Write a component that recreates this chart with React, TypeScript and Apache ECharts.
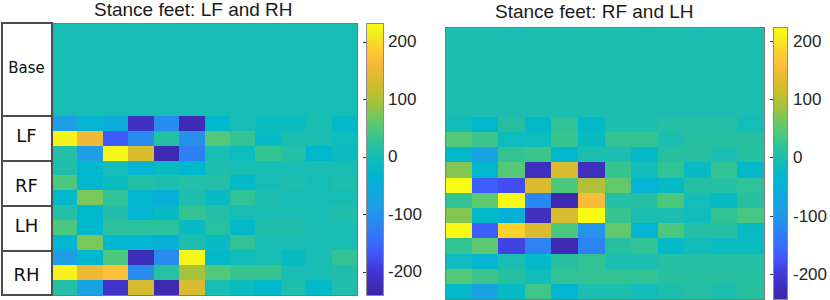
import React, { useEffect, useRef } from "react";
import * as echarts from "echarts";

// ---------- data ----------
const columns = ["1", "2", "3", "4", "5", "6", "7", "8", "9", "10", "11", "12"];
const groupLabels = ["LF", "RF", "LH", "RH"];
const baseLabel = "Base";
const tickValues = [-200, -100, 0, 100, 200];

const leftTitle = "Stance feet: LF and RH";
const rightTitle = "Stance feet: RF and LH";

const leftRange = [-240, 233];
const rightRange = [-243, 224];

const leftBase = [0, 0, 0, 0, 0, 0, 0, 0, 0, 0, 0, 0];
const rightBase = [0, 0, 0, 0, 0, 0, 0, 0, 0, 0, 0, 0];

const leftLF = [
  [-85, -35, -50, -215, -110, -225, -30, 0, -12, -12, 5, -25],
  [220, 155, -165, -110, 15, -105, 50, 30, -20, 5, 5, -8],
  [15, -85, 225, 135, -230, -125, 3, -10, 30, 15, -30, -12],
];
const leftRF = [
  [12, -30, -2, -35, -15, -30, 8, 3, 3, 3, 3, 3],
  [45, -30, -12, 15, 10, 15, 15, -22, 0, 8, 0, 8],
  [-30, 75, 25, -35, -45, 8, -15, 28, 6, 0, 0, 0],
];
const leftLH = [
  [15, -30, 12, -35, -15, 30, 15, 0, 2, 2, 2, 12],
  [45, -30, 22, 22, 22, -15, 20, -25, 12, 12, 3, 3],
  [-30, 75, -30, -35, -42, 8, -15, 28, 3, 3, 3, 3],
];
const leftRH = [
  [-85, -30, 45, -220, -110, 225, -25, -5, 2, -15, 3, 28],
  [220, 155, 170, -110, 18, 95, 50, 32, 32, 3, 3, 12],
  [15, -75, -205, 130, -230, 135, 3, -12, -30, 10, -25, 12],
];

const rightLF = [
  [-10, -35, 12, -30, 22, -30, 2, 2, 10, 10, 10, -8],
  [45, 28, -15, -15, 25, -22, 22, 22, 0, 12, 12, 12],
  [-30, -80, 22, 28, -40, 0, 0, -25, 12, 12, 0, 12],
];
const rightRF = [
  [72, -35, 45, -220, 130, -220, 25, -12, 22, -22, 22, -30],
  [225, -165, -180, 130, 40, 95, 55, -45, -25, 10, 10, 18],
  [22, 50, 220, -120, -232, 155, 10, 12, 40, -8, -22, 12],
];
const rightLH = [
  [72, -32, -50, -220, 130, 230, 25, 0, 0, -12, 22, 35],
  [222, -165, 185, 130, 38, -105, 55, -45, 38, 10, 10, -22],
  [22, 50, -190, -125, -232, -125, 12, 22, -30, -12, -20, -20],
];
const rightRH = [
  [-15, -42, -3, -30, 12, 22, 0, 0, 10, 10, 10, 10],
  [45, 28, 12, -12, 22, 22, 22, 22, 12, 12, 12, 12],
  [-30, -80, -22, 30, -40, 0, 2, -12, 2, 10, 2, 12],
];

// ---------- colour map (parula-like) ----------
const STOPS: [number, number[]][] = [
  [0.0, [62, 38, 168]],
  [0.04, [62, 45, 185]],
  [0.09, [65, 55, 212]],
  [0.148, [66, 85, 250]],
  [0.2, [55, 110, 250]],
  [0.275, [40, 140, 238]],
  [0.328, [30, 158, 228]],
  [0.412, [8, 175, 215]],
  [0.444, [0, 184, 205]],
  [0.482, [10, 188, 192]],
  [0.507, [22, 189, 181]],
  [0.533, [32, 190, 170]],
  [0.56, [45, 194, 152]],
  [0.603, [75, 200, 125]],
  [0.66, [115, 200, 95]],
  [0.7, [160, 195, 62]],
  [0.77, [205, 190, 45]],
  [0.82, [230, 185, 50]],
  [0.86, [252, 188, 60]],
  [0.92, [250, 212, 42]],
  [0.96, [245, 238, 30]],
  [1.0, [249, 251, 20]],
];
const rgb = (c: number[]) => `rgb(${c.map((v) => Math.round(v)).join(",")})`;
function cmap(t: number) {
  for (let i = 1; i < STOPS.length; i++) {
    const [t1, c1] = STOPS[i];
    const [t0, c0] = STOPS[i - 1];
    if (t <= t1) {
      const f = (t - t0) / (t1 - t0);
      return rgb(c0.map((v, k) => v + (c1[k] - v) * f));
    }
  }
  return rgb(STOPS[STOPS.length - 1][1]);
}
const MAP_COLORS = Array.from({ length: 201 }, (_, i) => cmap(i / 200));
const gradient = {
  type: "linear",
  x: 0,
  y: 0,
  x2: 0,
  y2: 1,
  colorStops: STOPS.slice()
    .reverse()
    .map(([t, c]) => ({ offset: 1 - t, color: rgb(c) })),
};

// ---------- layout ----------
const L = { left: 52, right: 357.5, top: 23, split: 116, bottom: 295, cbL: 366, cbW: 17 };
const R = { left: 445.5, right: 764, top: 27, split: 117, bottom: 299.5, cbL: 773, cbW: 17 };
const FONT = "'Liberation Sans', Arial, Helvetica, sans-serif";

function toCells(rows: number[][]) {
  const out: number[][] = [];
  rows.forEach((r, ri) => r.forEach((v, ci) => out.push([ci, ri, v])));
  return out;
}

export default function App() {
  const ref = useRef<HTMLDivElement>(null);
  useEffect(() => {
    if (!ref.current) return;
    const chart = echarts.init(ref.current, undefined, { renderer: "svg" });

    const leftRows = [...leftLF, ...leftRF, ...leftLH, ...leftRH];
    const rightRows = [...rightLF, ...rightRF, ...rightLH, ...rightRH];
    const rowCats = leftRows.map((_, i) => `r${i + 1}`);

    const heatGrid = (P: any, base: boolean) => ({
      show: false,
      left: P.left,
      width: P.right - P.left,
      top: base ? P.top : P.split,
      height: base ? P.split - P.top : P.bottom - P.split,
    });
    const frameGrid = (P: any) => ({
      show: true,
      z: 5,
      backgroundColor: "transparent",
      borderColor: "#7a7a7a",
      borderWidth: 1,
      left: P.left,
      width: P.right - P.left,
      top: P.top,
      height: P.bottom - P.top,
    });
    const cbGrid = (P: any) => ({
      show: true,
      z: 5,
      backgroundColor: gradient,
      borderColor: "#8c8c8c",
      borderWidth: 1,
      left: P.cbL,
      width: P.cbW,
      top: P.top,
      height: P.bottom - P.top,
    });

    const catX = (g: number) => ({ type: "category", gridIndex: g, data: columns, show: false });
    const catY = (g: number, data: string[]) => ({
      type: "category",
      gridIndex: g,
      data,
      inverse: true,
      show: false,
    });
    const hidden = (g: number) => ({ type: "value", gridIndex: g, show: false, min: 0, max: 1 });
    const cbY = (g: number, range: number[]) => ({
      type: "value",
      gridIndex: g,
      min: range[0],
      max: range[1],
      position: "right",
      z: 6,
      axisLine: { show: false },
      splitLine: { show: false },
      axisTick: { show: true, inside: true, length: 3, customValues: tickValues, lineStyle: { color: "#333", width: 1 } },
      axisLabel: { customValues: tickValues, margin: 5, fontSize: 17, fontFamily: FONT, color: "#262626" },
    });

    const boxes = [
      { text: baseLabel, y0: L.top, y1: L.split, cy: 68, size: 15 },
      { text: groupLabels[0], y0: 116, y1: 161, cy: 135, size: 18 },
      { text: groupLabels[1], y0: 161, y1: 206, cy: 185, size: 18 },
      { text: groupLabels[2], y0: 206, y1: 251, cy: 225.5, size: 18 },
      { text: groupLabels[3], y0: 251, y1: 295, cy: 274, size: 18 },
    ];
    const graphics: any[] = [];
    boxes.forEach((b) => {
      graphics.push({
        type: "rect",
        shape: { x: 2, y: b.y0, width: L.left - 2, height: b.y1 - b.y0 },
        style: { fill: "#fff", stroke: "#4d4d4d", lineWidth: 1.3 },
        z: 10,
      });
      graphics.push({
        type: "text",
        x: 26.5,
        y: b.cy,
        style: {
          text: b.text,
          fontSize: b.size,
          fontFamily: "'DejaVu Sans', sans-serif",
          fill: "#111",
          align: "center",
          verticalAlign: "middle",
        },
        z: 11,
      });
    });

    chart.setOption({
      animation: false,
      backgroundColor: "#fff",
      title: [
        {
          text: leftTitle,
          left: 94,
          top: 0,
          padding: 0,
          textStyle: { fontSize: 19, fontWeight: "normal", fontFamily: FONT, color: "#1a1a1a" },
        },
        {
          text: rightTitle,
          left: 495,
          top: 1.5,
          padding: 0,
          textStyle: { fontSize: 19, fontWeight: "normal", fontFamily: FONT, color: "#1a1a1a" },
        },
      ],
      grid: [
        heatGrid(L, true),
        heatGrid(L, false),
        cbGrid(L),
        heatGrid(R, true),
        heatGrid(R, false),
        cbGrid(R),
        frameGrid(L),
        frameGrid(R),
      ],
      xAxis: [catX(0), catX(1), hidden(2), catX(3), catX(4), hidden(5), hidden(6), hidden(7)],
      yAxis: [
        catY(0, [baseLabel]),
        catY(1, rowCats),
        cbY(2, leftRange),
        catY(3, [baseLabel]),
        catY(4, rowCats),
        cbY(5, rightRange),
        hidden(6),
        hidden(7),
      ],
      visualMap: [
        {
          type: "continuous",
          show: false,
          min: leftRange[0],
          max: leftRange[1],
          dimension: 2,
          seriesIndex: [0, 1],
          inRange: { color: MAP_COLORS },
        },
        {
          type: "continuous",
          show: false,
          min: rightRange[0],
          max: rightRange[1],
          dimension: 2,
          seriesIndex: [2, 3],
          inRange: { color: MAP_COLORS },
        },
      ],
      series: [
        { type: "heatmap", xAxisIndex: 0, yAxisIndex: 0, data: toCells([leftBase]), emphasis: { disabled: true } },
        { type: "heatmap", xAxisIndex: 1, yAxisIndex: 1, data: toCells(leftRows), emphasis: { disabled: true } },
        { type: "heatmap", xAxisIndex: 3, yAxisIndex: 3, data: toCells([rightBase]), emphasis: { disabled: true } },
        { type: "heatmap", xAxisIndex: 4, yAxisIndex: 4, data: toCells(rightRows), emphasis: { disabled: true } },
      ],
      graphic: graphics,
    });
    return () => chart.dispose();
  }, []);
  return (
    <>
      <style>{`.hm-chart svg path { shape-rendering: crispEdges; }`}</style>
      <div
        ref={ref}
        className="hm-chart"
        style={{ position: "absolute", left: 0, top: 0, width: 830, height: 300, background: "#fff" }}
      />
    </>
  );
}
